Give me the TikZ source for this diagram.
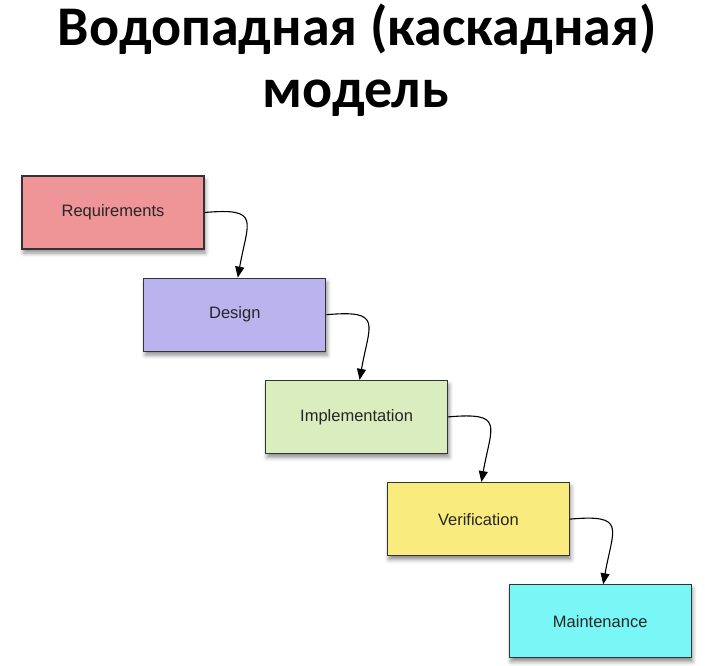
\documentclass[tikz,border=0pt]{standalone}
\usepackage{fontspec}
\newfontfamily\titlefont{Carlito}
\newfontfamily\boxfont{Liberation Sans}
\usetikzlibrary{arrows.meta,shadows.blur}
\definecolor{reqpink}{HTML}{EF9598}
\definecolor{deslilac}{HTML}{BAB3EE}
\definecolor{impgreen}{HTML}{D9EDBF}
\definecolor{veryellow}{HTML}{F9EB7D}
\definecolor{maicyan}{HTML}{79F7F7}
\begin{document}
\begin{tikzpicture}[x=1pt,y=1pt]
\useasboundingbox (0,0) rectangle (705,-665);
\node[anchor=base, font=\titlefont\bfseries\fontsize{56}{56}\selectfont] (title) at (357,-45) {Водопадная (каскадная)};
\node[anchor=base, font=\titlefont\bfseries\fontsize{56}{56}\selectfont] (subtitle) at (355.5,-107) {модель};
\begin{scope}[every node/.style = {draw=black!80, line width=1.1pt, minimum width=182pt, minimum height=73pt,
    font=\boxfont\fontsize{16.5}{20}\selectfont, text=black!85,
    blur shadow={shadow xshift=1.5pt, shadow yshift=-4pt, shadow blur radius=4pt, shadow opacity=45}}]
\node[fill=reqpink] (req) at (113, -212.5) {Requirements};
\node[fill=deslilac] (des) at (234.8, -314.7) {Design};
\node[fill=impgreen] (imp) at (356.6, -416.9) {Implementation};
\node[fill=veryellow] (ver) at (478.4, -519.1) {Verification};
\node[fill=maicyan] (mai) at (600.2, -621.3) {Maintenance};
\end{scope}
\begin{scope}[every edge/.style = {draw, line width=1.1pt, -{Triangle[length=11pt,width=9pt]}, out=5, in=80, looseness=2}]
\path (req.east) edge ([xshift=3pt]des.north);
\path (des.east) edge ([xshift=3pt]imp.north);
\path (imp.east) edge ([xshift=3pt]ver.north);
\path (ver.east) edge ([xshift=3pt]mai.north);
\end{scope}
\end{tikzpicture}
\end{document}
